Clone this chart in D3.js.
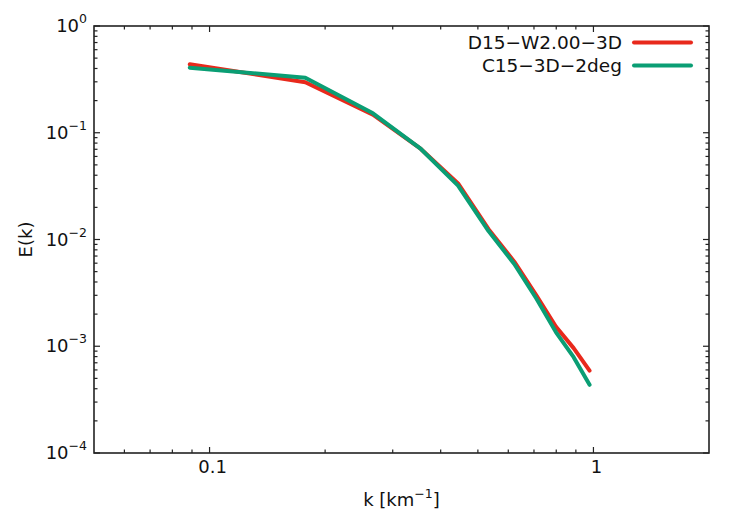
<!DOCTYPE html>
<html>
<head>
<meta charset="utf-8">
<script src="https://cdn.jsdelivr.net/npm/d3@7"></script>
<style>
  html, body { margin: 0; padding: 0; background: #ffffff; }
  svg { display: block; font-family: "DejaVu Sans", sans-serif; }
</style>
</head>
<body>
<script>
const [width, height] = [747, 518];
const margin = ({top: 26, right: 38, bottom: 65, left: 94});

// wavenumbers (km^-1)
const kValues = [0.0888, 0.1776, 0.2664, 0.3552, 0.444, 0.533, 0.622, 0.710, 0.799, 0.888, 0.977];
const seriesNames = ["D15\u2212W2.00\u22123D", "C15\u22123D\u22122deg"];
const seriesColors = ["#e8291c", "#0a9e74"];
const redValues = [0.438, 0.297, 0.148, 0.0705, 0.0335, 0.0125, 0.0062, 0.0030, 0.00152, 0.00096, 0.00059];
const greenValues = [0.407, 0.328, 0.152, 0.0705, 0.0320, 0.0120, 0.0059, 0.0028, 0.00135, 0.00079, 0.000435];
const xTickValues = [0.1, 1];
const xTickLabels = ["0.1", "1"];
const yTickExponents = [0, -1, -2, -3, -4];

const svg = d3.select("body").append("svg")
    .attr("width", width)
    .attr("height", height)
    .attr("viewBox", [0, 0, width, height]);

svg.append("rect").attr("width", width).attr("height", height).attr("fill", "#ffffff");

const x = d3.scaleLog()
    .domain([0.05, 2])
    .range([margin.left, width - margin.right]);

const y = d3.scaleLog()
    .domain([1e-4, 1])
    .range([height - margin.bottom, margin.top]);

const [x0, x1] = x.range();
const [y1, y0] = y.range();

// minor tick positions
const xMinor = [];
for (const dec of [0.01, 0.1, 1]) {
    for (let m = 2; m <= 9; m++) {
        const v = m * dec;
        if (v > 0.05 && v < 2) xMinor.push(v);
    }
}
const yMinor = [];
for (let e = -4; e < 0; e++) {
    for (let m = 2; m <= 9; m++) yMinor.push(m * Math.pow(10, e));
}

const tickColor = "#222222";
const majorLen = 6, minorLen = 3.5;

const ticks = svg.append("g").attr("stroke", tickColor).attr("stroke-width", 1.2);

// bottom and top ticks (inward)
const xTicksAll = xTickValues.map(v => ({v, len: majorLen})).concat(xMinor.map(v => ({v, len: minorLen})));
ticks.selectAll("line.xb").data(xTicksAll).join("line")
    .attr("class", "xb")
    .attr("x1", d => x(d.v)).attr("x2", d => x(d.v))
    .attr("y1", y1).attr("y2", d => y1 - d.len);
ticks.selectAll("line.xt").data(xTicksAll).join("line")
    .attr("class", "xt")
    .attr("x1", d => x(d.v)).attr("x2", d => x(d.v))
    .attr("y1", y0).attr("y2", d => y0 + d.len);

// left and right ticks (inward)
const yTicksAll = yTickExponents.map(e => ({v: Math.pow(10, e), len: majorLen})).concat(yMinor.map(v => ({v, len: minorLen})));
ticks.selectAll("line.yl").data(yTicksAll).join("line")
    .attr("class", "yl")
    .attr("x1", x0).attr("x2", d => x0 + d.len)
    .attr("y1", d => y(d.v)).attr("y2", d => y(d.v));
ticks.selectAll("line.yr").data(yTicksAll).join("line")
    .attr("class", "yr")
    .attr("x1", x1).attr("x2", d => x1 - d.len)
    .attr("y1", d => y(d.v)).attr("y2", d => y(d.v));

// series lines
const line = d3.line()
    .x(d => x(d[0]))
    .y(d => y(d[1]));

const series = [redValues, greenValues];
svg.append("g")
    .attr("fill", "none")
    .attr("stroke-width", 4)
    .attr("stroke-linecap", "round")
    .attr("stroke-linejoin", "round")
    .selectAll("path")
    .data(series)
    .join("path")
        .attr("stroke", (d, i) => seriesColors[i])
        .attr("d", vals => line(kValues.map((k, i) => [k, vals[i]])));

// frame
svg.append("rect")
    .attr("x", x0).attr("y", y0)
    .attr("width", x1 - x0).attr("height", y1 - y0)
    .attr("fill", "none")
    .attr("stroke", tickColor)
    .attr("stroke-width", 1.6);

// x tick labels
svg.append("g")
    .attr("font-size", 18)
    .attr("fill", "#111")
    .attr("text-anchor", "middle")
    .selectAll("text")
    .data(xTickValues)
    .join("text")
        .attr("x", d => x(d) + 3)
        .attr("y", y1 + 20)
        .text((d, i) => xTickLabels[i]);

// y tick labels as 10^e
const yLab = svg.append("g")
    .attr("fill", "#111")
    .attr("text-anchor", "end")
    .selectAll("text")
    .data(yTickExponents)
    .join("text")
        .attr("x", x0 - 7)
        .attr("y", d => y(Math.pow(10, d)) + 6)
        .attr("font-size", 18);
yLab.append("tspan").text("10");
yLab.append("tspan")
    .attr("font-size", 12.5)
    .attr("dy", -9)
    .text(d => d === 0 ? "0" : "\u2212" + Math.abs(d));

// axis labels
const xl = svg.append("text")
    .attr("x", (x0 + x1) / 2)
    .attr("y", 506)
    .attr("text-anchor", "middle")
    .attr("font-size", 18)
    .attr("fill", "#111");
xl.append("tspan").text("k [km");
xl.append("tspan").attr("font-size", 12.5).attr("dy", -8).text("\u22121");
xl.append("tspan").attr("dy", 8).text("]");

svg.append("text")
    .attr("transform", `translate(32,${(y0 + y1) / 2}) rotate(-90)`)
    .attr("text-anchor", "middle")
    .attr("font-size", 18)
    .attr("fill", "#111")
    .text("E(k)");

// legend
const legend = svg.append("g")
    .selectAll("g")
    .data(seriesNames)
    .join("g")
        .attr("transform", (d, i) => `translate(0,${42.5 + i * 23})`);
legend.append("line")
    .attr("x1", 634).attr("x2", 691)
    .attr("stroke", (d, i) => seriesColors[i])
    .attr("stroke-width", 4)
    .attr("stroke-linecap", "round");
legend.append("text")
    .attr("x", 622)
    .attr("y", 6.5)
    .attr("text-anchor", "end")
    .attr("font-size", 18.5)
    .attr("fill", "#111")
    .text(d => d);
</script>
</body>
</html>
